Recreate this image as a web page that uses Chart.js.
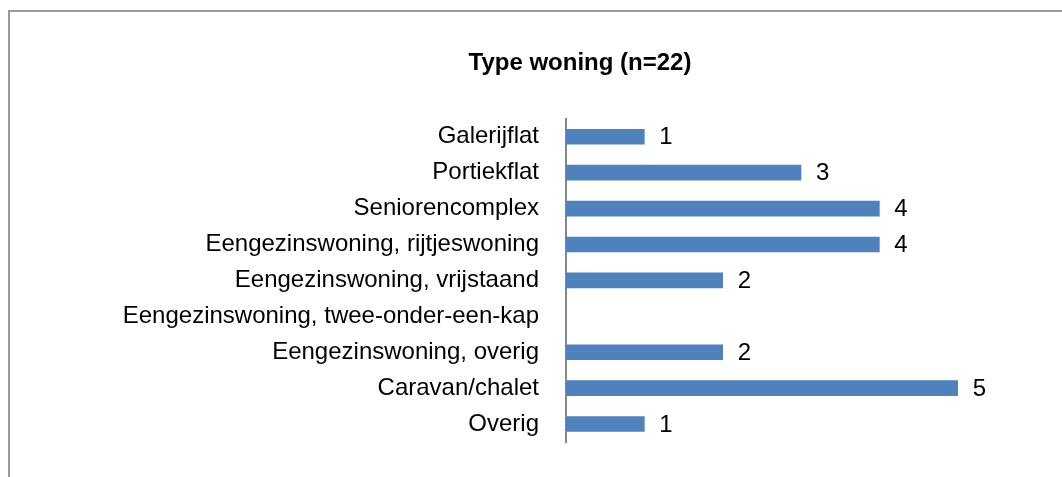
<!DOCTYPE html>
<html>
<head>
<meta charset="utf-8">
<script src="https://cdn.jsdelivr.net/npm/chart.js@4"></script>
<style>
  html, body { margin: 0; padding: 0; background: #fff; overflow: hidden; width: 1062px; height: 477px; }
  #frame { position: absolute; left: 8px; top: 10px; width: 1200px; height: 600px; border: 2px solid #9a9a9a; box-sizing: border-box; }
  #wrap { position: absolute; left: 0; top: 0; width: 1160px; height: 477px; }
</style>
</head>
<body>
<div id="frame"></div>
<div id="wrap"><canvas id="c" width="1160" height="477"></canvas></div>
<script>
const title = 'Type woning (n=22)';
const categories = [
  'Galerijflat',
  'Portiekflat',
  'Seniorencomplex',
  'Eengezinswoning, rijtjeswoning',
  'Eengezinswoning, vrijstaand',
  'Eengezinswoning, twee-onder-een-kap',
  'Eengezinswoning, overig',
  'Caravan/chalet',
  'Overig'
];
const counts = [1, 3, 4, 4, 2, null, 2, 5, 1];

const valueLabels = {
  id: 'valueLabels',
  afterDatasetsDraw(chart) {
    const ctx = chart.ctx;
    const meta = chart.getDatasetMeta(0);
    ctx.save();
    ctx.font = '24px "Liberation Sans", Arial, sans-serif';
    ctx.fillStyle = '#000';
    ctx.textAlign = 'left';
    ctx.textBaseline = 'middle';
    meta.data.forEach((bar, i) => {
      const v = counts[i];
      if (v === null || v === undefined) return;
      ctx.fillText(String(v), bar.x + 15, bar.y + 1);
    });
    ctx.restore();
  }
};

new Chart(document.getElementById('c'), {
  type: 'bar',
  data: {
    labels: categories,
    datasets: [{
      data: counts,
      backgroundColor: '#4F81BD',
      borderWidth: 0,
      barThickness: 15
    }]
  },
  options: {
    indexAxis: 'y',
    responsive: false,
    animation: false,
    devicePixelRatio: 1,
    layout: { padding: { left: 124, right: 124, top: 0, bottom: 35 } },
    plugins: {
      legend: { display: false },
      tooltip: { enabled: false },
      title: {
        display: true,
        text: title,
        color: '#000',
        font: { family: '"Liberation Sans", Arial, sans-serif', size: 24, weight: 'bold', lineHeight: 1.2 },
        padding: { top: 49, bottom: 41 }
      }
    },
    scales: {
      x: {
        display: false,
        min: 0,
        max: 6
      },
      y: {
        afterFit(scale) { scale.width = 566 - 124; },
        grid: { display: false, drawTicks: true, tickLength: 8 },
        border: { display: true, color: '#868686', width: 2 },
        ticks: {
          color: '#000',
          padding: 19,
          font: { family: '"Liberation Sans", Arial, sans-serif', size: 24 }
        }
      }
    }
  },
  plugins: [valueLabels]
});
</script>
</body>
</html>
